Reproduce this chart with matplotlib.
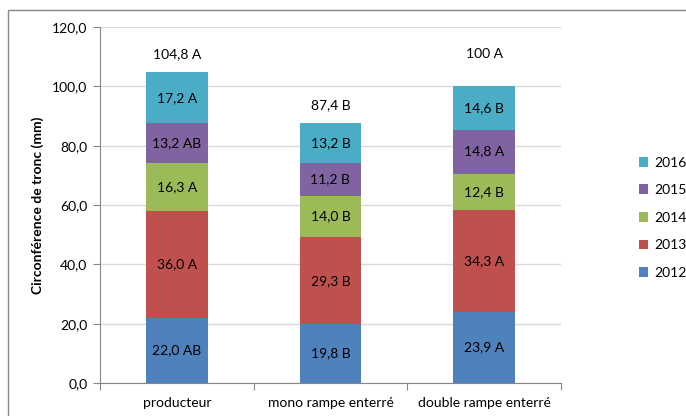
import numpy as np
import matplotlib
matplotlib.use("Agg")
import matplotlib.pyplot as plt
from matplotlib.ticker import FuncFormatter, FixedLocator
from matplotlib.patches import Rectangle

plt.rcParams["font.family"] = ["Lato", "DejaVu Sans"]

# Données : circonférence de tronc par année et par modalité
modalites = ["producteur", "mono rampe enterré", "double rampe enterré"]
annees = ["2012", "2013", "2014", "2015", "2016"]
v2012 = [22.0, 19.8, 23.9]
v2013 = [36.0, 29.3, 34.3]
v2014 = [16.3, 14.0, 12.4]
v2015 = [13.2, 11.2, 14.8]
v2016 = [17.2, 13.2, 14.6]
lettres2012 = ["AB", "B", "A"]
lettres2013 = ["A", "B", "A"]
lettres2014 = ["A", "B", "B"]
lettres2015 = ["AB", "B", "A"]
lettres2016 = ["A", "B", "B"]
totaux = ["104,8 A", "87,4 B", "100 A"]

couleurs = ["#4F81BD", "#C0504D", "#9BBB59", "#8064A2", "#4BACC6"]
pos_totaux = [111.0, 93.7, 111.0]

series = [v2012, v2013, v2014, v2015, v2016]
lettres = [lettres2012, lettres2013, lettres2014, lettres2015, lettres2016]

fig = plt.figure(figsize=(6.86, 4.16), dpi=100)
ax = fig.add_axes([100 / 686, 1 - 383 / 416, 461 / 686, 356 / 416])

# cadre du graphique
fig.patches.append(Rectangle((8 / 686, -0.1), 1.1, 1 - 10 / 416 + 0.1,
                             transform=fig.transFigure, fill=False,
                             edgecolor="#878787", linewidth=1.0, zorder=0))

x = np.arange(len(modalites))
bas = np.zeros(len(modalites))
barres = []
for vals, lab, col, let in zip(series, annees, couleurs, lettres):
    b = ax.bar(x, vals, 0.40, bottom=bas, color=col, label=lab, zorder=2)
    barres.append(b)
    for xi, yb, v, l in zip(x, bas, vals, let):
        ax.text(xi, yb + v / 2, f"{v:.1f}".replace(".", ",") + " " + l,
                ha="center", va="center", fontsize=10, color="black", zorder=3)
    bas = bas + np.array(vals)

for xi, yt, t in zip(x, pos_totaux, totaux):
    ax.text(xi, yt, t, ha="center", va="center", fontsize=10)

ax.set_xlim(-0.5, 2.5)
ax.set_ylim(0, 120)
ax.set_yticks(np.arange(0, 121, 20))
ax.yaxis.set_major_formatter(FuncFormatter(lambda v, p: f"{v:.1f}".replace(".", ",")))
ax.set_xticks(x)
ax.set_xticklabels(modalites, fontsize=10)
ax.xaxis.set_minor_locator(FixedLocator([-0.5, 0.5, 1.5, 2.5]))
ax.tick_params(axis="x", which="major", length=0, pad=10)
ax.tick_params(axis="x", which="minor", length=5, color="#878787", width=0.8)
ax.tick_params(axis="y", length=5, color="#878787", width=0.8, labelsize=10, pad=4)
ax.grid(axis="y", color="#D9D9D9", linewidth=1.0, zorder=0)
ax.set_axisbelow(True)
for s in ["top", "right"]:
    ax.spines[s].set_visible(False)
for s in ["left", "bottom"]:
    ax.spines[s].set_color("#878787")
    ax.spines[s].set_linewidth(0.8)

ax.set_ylabel("Circonférence de tronc (mm)", fontsize=10, fontweight="bold", labelpad=6)

handles = barres[::-1]
leg = fig.legend(handles, annees[::-1], loc="upper left",
                 bbox_to_anchor=(633 / 686, 1 - 151 / 416), frameon=False,
                 fontsize=10, handlelength=0.7, handleheight=0.7,
                 handletextpad=0.4, labelspacing=1.12, borderaxespad=0)

fig.savefig("out.png", dpi=100)
